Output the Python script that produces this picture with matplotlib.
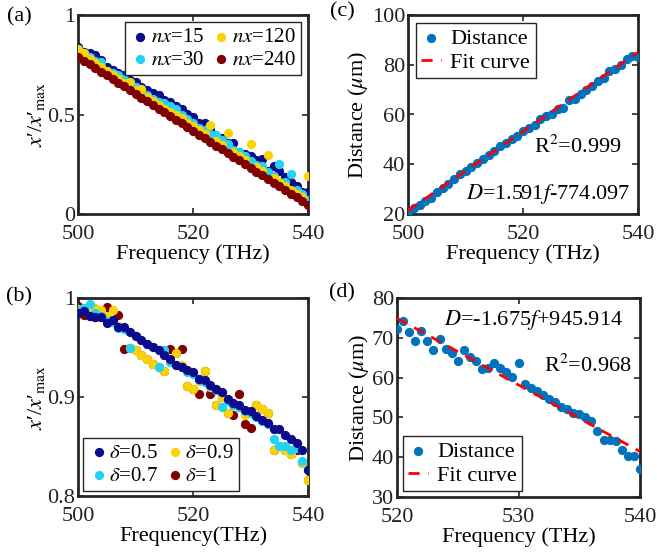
import numpy as np
import matplotlib
matplotlib.use('Agg')
import matplotlib.pyplot as plt

plt.rcParams['font.family'] = 'serif'
plt.rcParams['font.serif'] = ['Liberation Serif', 'DejaVu Serif']
plt.rcParams['mathtext.fontset'] = 'stix'
plt.rcParams['font.size'] = 16

# ---- data ----
freq_a = np.arange(500, 541, 1)
nx15 = [0.84, 0.815, 0.81, 0.80, 0.775, 0.74, 0.725, 0.71, 0.70, 0.675, 0.665, 0.64, 0.625, 0.61,
        0.597, 0.575, 0.563, 0.545, 0.53, 0.505, 0.487, 0.457, 0.457, 0.42, 0.353, 0.38, 0.356,
        0.356, 0.31, 0.30, 0.29, 0.27, 0.277, 0.218, 0.24, 0.218, 0.185, 0.16, 0.143, 0.11, 0.11]
nx30 = [0.82, 0.81, 0.79, 0.77, 0.765, 0.72, 0.71, 0.70, 0.68, 0.655, 0.64, 0.62, 0.60, 0.58,
        0.565, 0.56, 0.545, 0.53, 0.495, 0.475, 0.455, 0.43, 0.42, 0.40, 0.395, 0.37, 0.35, 0.32,
        0.31, 0.29, 0.265, 0.245, 0.24, 0.21, 0.19, 0.25, 0.16, 0.20, 0.12, 0.10, 0.07]
nx120 = [0.83, 0.81, 0.78, 0.76, 0.74, 0.72, 0.70, 0.68, 0.66, 0.665, 0.625, 0.63, 0.59, 0.57,
         0.55, 0.53, 0.515, 0.495, 0.48, 0.455, 0.44, 0.42, 0.40, 0.445, 0.365, 0.345, 0.405,
         0.31, 0.29, 0.27, 0.35, 0.235, 0.215, 0.295, 0.18, 0.16, 0.14, 0.12, 0.10, 0.085, 0.19]
nx240 = [0.790, 0.771, 0.753, 0.734, 0.716, 0.697, 0.678, 0.660, 0.641, 0.623, 0.604, 0.585,
         0.567, 0.548, 0.530, 0.511, 0.492, 0.474, 0.455, 0.437, 0.418, 0.399, 0.381, 0.362,
         0.344, 0.325, 0.306, 0.288, 0.269, 0.251, 0.232, 0.213, 0.195, 0.176, 0.158, 0.139,
         0.120, 0.102, 0.083, 0.065, 0.046]

freq_b = np.arange(500, 541, 1)
d05 = [0.985, 0.987, 0.982, 0.981, 0.981, 0.975, 0.978, 0.971, 0.971, 0.966, 0.962, 0.958,
       0.954, 0.951, 0.947, 0.942, 0.938, 0.932, 0.930, 0.927, 0.925, 0.918, 0.917, 0.912,
       0.908, 0.905, 0.898, 0.894, 0.892, 0.887, 0.886, 0.881, 0.877, 0.874, 0.868, 0.868,
       0.862, 0.858, 0.854, 0.846, 0.826]
d07 = [0.988, 0.990, 0.994, 0.985, 0.982, 0.977, 0.976, 0.970, 0.969, 0.949, 0.962, 0.958,
       0.954, 0.951, 0.930, 0.947, 0.935, 0.932, 0.930, 0.925, 0.923, 0.917, 0.915, 0.911,
       0.907, 0.890, 0.896, 0.892, 0.890, 0.886, 0.884, 0.880, 0.876, 0.873, 0.858, 0.851,
       0.851, 0.846, 0.848, 0.835, 0.826]
d09 = [0.989, 0.990, 0.985, 0.990, 0.988, 0.982, 0.988, 0.972, 0.970, 0.950, 0.947, 0.942,
       0.938, 0.933, 0.930, 0.926, 0.936, 0.944, 0.932, 0.911, 0.908, 0.916, 0.926, 0.910,
       0.892, 0.900, 0.884, 0.892, 0.890, 0.882, 0.885, 0.892, 0.888, 0.884, 0.846, 0.851,
       0.846, 0.842, 0.850, 0.833, 0.816]
d10 = [0.992, 0.983, 0.982, 0.981, 0.981, 0.991, 0.978, 0.983, 0.948, 0.949, 0.947, 0.942,
       0.938, 0.933, 0.930, 0.926, 0.948, 0.944, 0.948, 0.911, 0.908, 0.903, 0.926, 0.903,
       0.892, 0.900, 0.884, 0.882, 0.903, 0.873, 0.869, 0.892, 0.888, 0.884, 0.846, 0.851,
       0.846, 0.842, 0.846, 0.833, 0.816]

freq_c = np.arange(500, 541, 1)
dist_c = [20.7, 22.3, 23.6, 25.1, 26.4, 28.7, 30.4, 32.0, 34.0, 36.0, 37.3, 38.9, 40.7, 42.3,
          43.7, 45.3, 47.3, 48.7, 50.0, 51.3, 53.2, 54.7, 55.6, 58.0, 59.3, 60.4, 62.3, 62.7,
          65.7, 66.3, 68.3, 70.0, 71.6, 73.3, 74.7, 77.3, 78.3, 80.0, 82.3, 83.6, 83.0]
fit_c = (1.591, -774.097)

freq_d = np.arange(520, 540.01, 0.5)
dist_d = [72.1, 74.3, 71.5, 69.2, 71.7, 69.2, 66.9, 69.75, 67.25, 66.1, 64.2, 66.9, 65.25,
          64.2, 62.25, 62.5, 63.75, 62.5, 61.5, 60.25, 63.75, 58.5, 57.5, 56.7, 55.7, 54.6,
          53.75, 52.7, 52.1, 51.1, 50.8, 50.0, 49.2, 46.7, 44.4, 44.4, 44.0, 41.8, 40.4, 40.4,
          37.0]
fit_d = (-1.675, 945.914)

c_navy = '#0b0b8c'
c_cyan = '#22d3f5'
c_yellow = '#fbd304'
c_dred = '#800000'
c_blue = '#0072bd'
c_red = '#ff0000'
spine_c = '#262626'

ylab_x = r"$x$′/$x$′$_{\mathrm{max}}$"


def style_ax(ax):
    for s in ax.spines.values():
        s.set_linewidth(2)
        s.set_color(spine_c)
    ax.tick_params(direction='in', top=True, right=True, length=4, width=1.2,
                   colors=spine_c, labelcolor='#222222')
    ax.tick_params(axis='x', pad=8)
    ax.tick_params(axis='y', pad=2)


leg_kw = dict(fancybox=False, edgecolor=spine_c, framealpha=1, borderpad=0.25,
              labelspacing=0.15)

fig = plt.figure(figsize=(6.57, 5.58), dpi=100)
ax_a = fig.add_axes([78 / 657, 1 - 214 / 558, 230 / 657, 199 / 558])
ax_c = fig.add_axes([408 / 657, 1 - 214 / 558, 230 / 657, 199 / 558])
ax_b = fig.add_axes([78 / 657, 1 - 496 / 558, 230 / 657, 198 / 558])
ax_d = fig.add_axes([397 / 657, 1 - 497 / 558, 243 / 657, 199 / 558])

ms = 32
# (a)
ax_a.scatter(freq_a, nx15, s=ms, color=c_navy, label=r'$nx$=15', zorder=3)
ax_a.scatter(freq_a, nx30, s=ms, color=c_cyan, label=r'$nx$=30', zorder=3)
ax_a.scatter(freq_a, nx120, s=ms, color=c_yellow, label=r'$nx$=120', zorder=3)
ax_a.scatter(freq_a, nx240, s=ms, color=c_dred, label=r'$nx$=240', zorder=3)
ax_a.set_xlim(500, 540)
ax_a.set_ylim(0, 1)
ax_a.set_xticks([500, 520, 540])
ax_a.set_yticks([0, 0.5, 1])
ax_a.set_yticklabels(['0', '0.5', '1'])
ax_a.set_xlabel('Frequency (THz)', labelpad=0)
ax_a.set_ylabel(ylab_x, labelpad=0)
ax_a.legend(loc='upper right', ncol=2, handletextpad=0.0, columnspacing=0.3,
            handlelength=1.0, borderaxespad=0.35, fontsize=15, **leg_kw)

# (b)
lb = [ax_b.scatter(freq_b, d10, s=ms, color=c_dred, label=r'$\delta$=1', zorder=3),
      ax_b.scatter(freq_b, d09, s=ms, color=c_yellow, label=r'$\delta$=0.9', zorder=3),
      ax_b.scatter(freq_b, d07, s=ms, color=c_cyan, label=r'$\delta$=0.7', zorder=3),
      ax_b.scatter(freq_b, d05, s=ms, color=c_navy, label=r'$\delta$=0.5', zorder=3)]
ax_b.set_xlim(500, 540)
ax_b.set_ylim(0.8, 1)
ax_b.set_xticks([500, 520, 540])
ax_b.set_yticks([0.8, 0.9, 1])
ax_b.set_yticklabels(['0.8', '0.9', '1'])
ax_b.set_xlabel('Frequency(THz)', labelpad=0)
ax_b.set_ylabel(ylab_x, labelpad=0)
ax_b.legend(handles=[lb[3], lb[2], lb[1], lb[0]], loc='lower left', ncol=2,
            handletextpad=0.0, columnspacing=0.3, handlelength=1.0, borderaxespad=0.25,
            fontsize=15, **leg_kw)

# (c)
ax_c.scatter(freq_c, dist_c, s=ms, color=c_blue, label='Distance', zorder=3)
ax_c.plot(freq_c, fit_c[0] * freq_c + fit_c[1], '--', color=c_red, lw=2, dashes=(4, 3),
          label='Fit curve', zorder=4)
ax_c.set_xlim(500, 540)
ax_c.set_ylim(20, 100)
ax_c.set_xticks([500, 520, 540])
ax_c.set_yticks([20, 40, 60, 80, 100])
ax_c.set_xlabel('Frequency (THz)', labelpad=0)
ax_c.set_ylabel(r'Distance ($\mu$m)', labelpad=1)
ax_c.text(529.6, 47.2, r'R$^2$=0.999', ha='center', va='center')
ax_c.text(524.3, 28.2, r'$D$=1.591$f$-774.097', ha='center', va='center')
ax_c.legend(loc='upper left', handletextpad=0.4, handlelength=0.9, borderaxespad=0.35,
            **leg_kw)

# (d)
ax_d.scatter(freq_d, dist_d, s=ms, color=c_blue, label='Distance', zorder=3)
ax_d.plot(freq_d, fit_d[0] * freq_d + fit_d[1], '--', color=c_red, lw=2, dashes=(4, 3),
          label='Fit curve', zorder=4)
ax_d.set_xlim(520, 540)
ax_d.set_ylim(30, 80)
ax_d.set_xticks([520, 530, 540])
ax_d.set_yticks([30, 40, 50, 60, 70, 80])
ax_d.set_xlabel('Frequency (THz)', labelpad=0)
ax_d.set_ylabel(r'Distance ($\mu$m)', labelpad=1)
ax_d.text(531.2, 74.5, r'$D$=-1.675$f$+945.914', ha='center', va='center')
ax_d.text(535.7, 63.0, r'R$^2$=0.968', ha='center', va='center')
ax_d.legend(loc='lower left', handletextpad=0.4, handlelength=0.9, borderaxespad=0.25,
            **leg_kw)

for ax in (ax_a, ax_b, ax_c, ax_d):
    style_ax(ax)

fig.text(19 / 657, 1 - 17 / 558, '(a)', ha='center', va='center')
fig.text(19 / 657, 1 - 297 / 558, '(b)', ha='center', va='center')
fig.text(342 / 657, 1 - 12 / 558, '(c)', ha='center', va='center')
fig.text(342 / 657, 1 - 293 / 558, '(d)', ha='center', va='center')

fig.savefig('out.png', dpi=100)
